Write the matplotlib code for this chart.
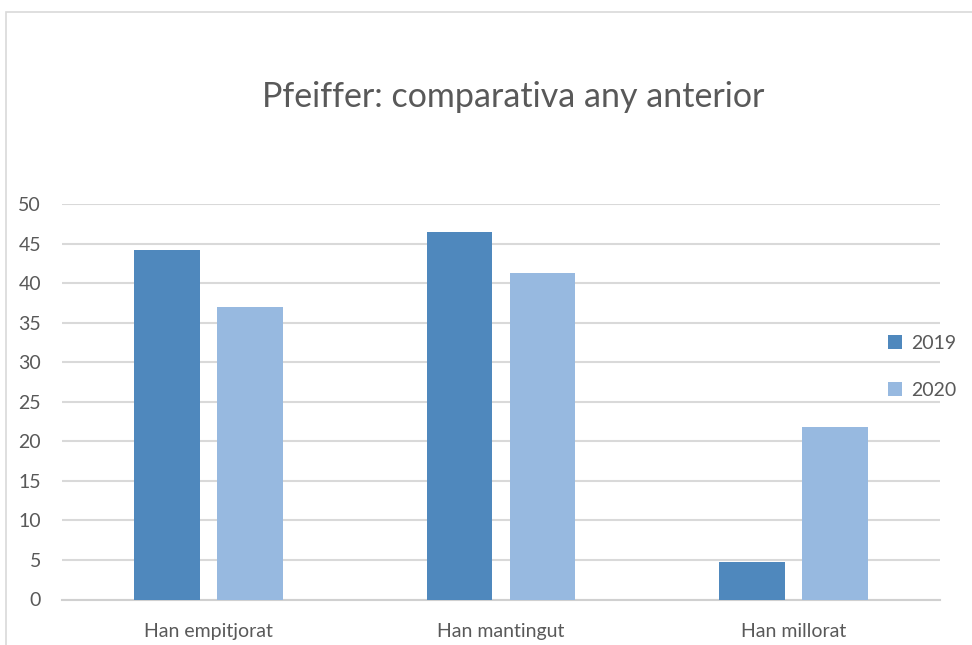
import matplotlib.pyplot as plt
import numpy as np
from matplotlib.patches import Rectangle

categories = ['Han empitjorat', 'Han mantingut', 'Han millorat']
vals_2019 = [44.2, 46.5, 4.8]
vals_2020 = [37.0, 41.3, 21.8]
series = ['2019', '2020']

plt.rcParams['font.family'] = ['Lato', 'DejaVu Sans']
text_color = '#595959'
grid_color = '#d9d9d9'

fig = plt.figure(figsize=(9.72, 6.45), dpi=100)
# chart frame
fig.patches.append(Rectangle((6 / 972, -0.1), 1.2, 1 - 12 / 645 + 0.1,
                             transform=fig.transFigure, fill=False,
                             edgecolor='#d9d9d9', linewidth=1.2))

ax = fig.add_axes([62 / 972, 1 - 599.5 / 645, (940 - 62) / 972, (599.5 - 204) / 645])

x = np.arange(len(categories))
w = 0.225
off = 0.142
ax.bar(x - off, vals_2019, width=w, color='#4f88bd', label=series[0], zorder=3)
ax.bar(x + off, vals_2020, width=w, color='#97b9e0', label=series[1], zorder=3)

ax.set_xlim(-0.5, 2.5)
ax.set_ylim(0, 50)
ax.set_yticks(range(0, 51, 5))
ax.yaxis.grid(True, color=grid_color, linewidth=1.5, zorder=0)
ax.set_axisbelow(True)
for s in ['top', 'right', 'left']:
    ax.spines[s].set_visible(False)
ax.spines['bottom'].set_color('#d0d0d0')
ax.spines['bottom'].set_linewidth(1.5)
ax.tick_params(axis='both', length=0, labelsize=14, colors=text_color)
ax.tick_params(axis='y', pad=15)
ax.tick_params(axis='x', pad=17)
ax.set_xticks(x)
ax.set_xticklabels(categories)

fig.text(513 / 972, 1 - 97 / 645, 'Pfeiffer: comparativa any anterior',
         ha='center', va='center', fontsize=24.5, color=text_color)

leg = ax.legend(loc='center left', bbox_to_anchor=(870 / 972, 1 - 367 / 645),
                bbox_transform=fig.transFigure, frameon=False, fontsize=14,
                handlelength=0.75, handleheight=0.75, handletextpad=0.45,
                labelspacing=1.55, labelcolor=text_color)

fig.savefig('out.png', dpi=100)
